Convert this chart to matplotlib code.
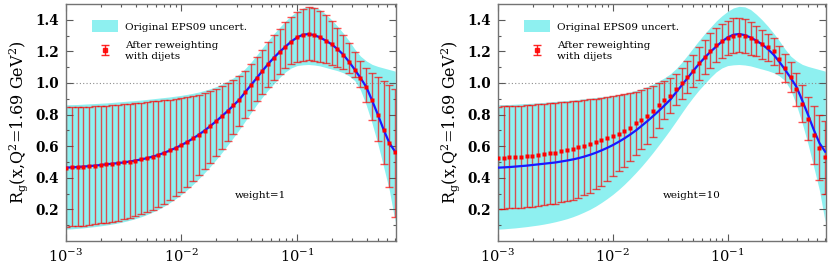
"""EPS09 gluon nuclear modification: original band vs dijet reweighting (weight 1 and 10)."""
import numpy as np
import matplotlib; matplotlib.use("Agg")
import matplotlib.pyplot as plt
from matplotlib.patches import Patch

plt.rcParams["font.family"] = "DejaVu Serif"
plt.rcParams["mathtext.fontset"] = "dejavuserif"

# log10(x) of the sample points
LOGX = [-3.00, -2.95, -2.90, -2.85, -2.80, -2.75, -2.70, -2.65, -2.60, -2.55,
        -2.50, -2.45, -2.40, -2.35, -2.30, -2.25, -2.20, -2.15, -2.10, -2.05,
        -2.00, -1.95, -1.90, -1.85, -1.80, -1.75, -1.70, -1.65, -1.60, -1.55,
        -1.50, -1.45, -1.40, -1.35, -1.30, -1.25, -1.20, -1.15, -1.10, -1.05,
        -1.00, -0.95, -0.90, -0.85, -0.80, -0.75, -0.70, -0.65, -0.60, -0.55,
        -0.50, -0.45, -0.40, -0.35, -0.30, -0.25, -0.20, -0.15]

# original EPS09 central value and uncertainty band
central = [0.464, 0.466, 0.468, 0.471, 0.474, 0.477, 0.481, 0.485, 0.489, 0.493,
           0.497, 0.503, 0.509, 0.516, 0.524, 0.534, 0.545, 0.558, 0.573, 0.589,
           0.607, 0.627, 0.649, 0.673, 0.699, 0.728, 0.758, 0.790, 0.823, 0.858,
           0.894, 0.940, 0.985, 1.030, 1.076, 1.120, 1.160, 1.197, 1.230, 1.262,
           1.288, 1.305, 1.310, 1.303, 1.288, 1.268, 1.245, 1.215, 1.180, 1.135,
           1.085, 1.032, 0.975, 0.890, 0.800, 0.705, 0.620, 0.565]
band_hi = [0.862, 0.863, 0.864, 0.866, 0.868, 0.870, 0.872, 0.874, 0.877, 0.880,
           0.883, 0.886, 0.889, 0.892, 0.896, 0.900, 0.904, 0.908, 0.912, 0.917,
           0.922, 0.928, 0.935, 0.943, 0.953, 0.964, 0.977, 0.993, 1.012, 1.033,
           1.057, 1.090, 1.130, 1.175, 1.222, 1.268, 1.312, 1.352, 1.392, 1.425,
           1.453, 1.475, 1.485, 1.482, 1.465, 1.435, 1.400, 1.360, 1.316, 1.268,
           1.215, 1.170, 1.140, 1.118, 1.105, 1.095, 1.085, 1.075]
band_lo = [0.075, 0.077, 0.080, 0.083, 0.087, 0.091, 0.096, 0.101, 0.107, 0.114,
           0.122, 0.131, 0.141, 0.153, 0.167, 0.183, 0.200, 0.220, 0.243, 0.268,
           0.295, 0.325, 0.358, 0.394, 0.432, 0.472, 0.515, 0.560, 0.607, 0.655,
           0.705, 0.757, 0.810, 0.862, 0.910, 0.955, 0.995, 1.035, 1.070, 1.095,
           1.110, 1.115, 1.117, 1.114, 1.108, 1.098, 1.088, 1.078, 1.065, 1.045,
           1.015, 0.955, 0.860, 0.745, 0.615, 0.470, 0.320, 0.120]

# reweighted, weight = 1 (central equals the original)
w1_hi = [0.845, 0.846, 0.847, 0.849, 0.851, 0.853, 0.855, 0.857, 0.860, 0.863,
         0.866, 0.869, 0.872, 0.875, 0.879, 0.883, 0.887, 0.891, 0.895, 0.900,
         0.905, 0.911, 0.918, 0.927, 0.937, 0.948, 0.962, 0.978, 0.997, 1.019,
         1.044, 1.077, 1.118, 1.163, 1.210, 1.257, 1.302, 1.344, 1.384, 1.418,
         1.447, 1.468, 1.478, 1.475, 1.458, 1.428, 1.392, 1.350, 1.303, 1.252,
         1.195, 1.140, 1.097, 1.062, 1.035, 1.010, 0.985, 0.962]
w1_lo = [0.090, 0.092, 0.095, 0.098, 0.102, 0.106, 0.111, 0.116, 0.122, 0.129,
         0.137, 0.146, 0.156, 0.168, 0.182, 0.198, 0.215, 0.236, 0.259, 0.285,
         0.313, 0.344, 0.378, 0.415, 0.454, 0.495, 0.538, 0.583, 0.630, 0.678,
         0.728, 0.780, 0.832, 0.883, 0.930, 0.975, 1.016, 1.056, 1.092, 1.118,
         1.135, 1.142, 1.144, 1.141, 1.134, 1.124, 1.113, 1.101, 1.087, 1.066,
         1.035, 0.975, 0.880, 0.765, 0.635, 0.490, 0.340, 0.150]

# reweighted, weight = 10
w10_c = [0.526, 0.527, 0.529, 0.531, 0.533, 0.536, 0.539, 0.543, 0.548, 0.554,
         0.560, 0.567, 0.575, 0.584, 0.594, 0.604, 0.615, 0.627, 0.640, 0.653,
         0.665, 0.680, 0.696, 0.718, 0.746, 0.766, 0.788, 0.820, 0.858, 0.890,
         0.920, 0.960, 0.998, 1.038, 1.078, 1.125, 1.165, 1.205, 1.240, 1.265,
         1.283, 1.300, 1.305, 1.298, 1.283, 1.265, 1.245, 1.225, 1.200, 1.150,
         1.095, 1.035, 0.960, 0.870, 0.775, 0.672, 0.590, 0.530]
w10_hi = [0.851, 0.852, 0.853, 0.855, 0.857, 0.859, 0.862, 0.865, 0.868, 0.871,
          0.874, 0.878, 0.881, 0.885, 0.889, 0.893, 0.897, 0.901, 0.905, 0.910,
          0.915, 0.921, 0.928, 0.936, 0.945, 0.955, 0.967, 0.982, 1.000, 1.010,
          1.030, 1.060, 1.095, 1.140, 1.180, 1.230, 1.275, 1.315, 1.345, 1.375,
          1.395, 1.410, 1.412, 1.405, 1.385, 1.360, 1.335, 1.310, 1.285, 1.235,
          1.185, 1.130, 1.065, 0.985, 0.910, 0.855, 0.800, 0.760]
w10_lo = [0.202, 0.204, 0.206, 0.208, 0.211, 0.214, 0.217, 0.221, 0.226, 0.231,
          0.237, 0.244, 0.252, 0.262, 0.274, 0.289, 0.306, 0.326, 0.350, 0.378,
          0.410, 0.440, 0.470, 0.505, 0.545, 0.580, 0.613, 0.658, 0.715, 0.770,
          0.810, 0.860, 0.900, 0.935, 0.975, 1.020, 1.060, 1.095, 1.135, 1.160,
          1.175, 1.190, 1.195, 1.190, 1.180, 1.170, 1.155, 1.140, 1.115, 1.065,
          1.005, 0.940, 0.855, 0.755, 0.640, 0.490, 0.385, 0.300]

PANELS = [("weight=1", central, w1_lo, w1_hi), ("weight=10", w10_c, w10_lo, w10_hi)]
BAND = "#8ef0f0"
x = 10 ** np.array(LOGX)

fig = plt.figure(figsize=(8.3, 2.66), dpi=100)
axes = [fig.add_axes([0.0795, 0.094, 0.3976, 0.891]),
        fig.add_axes([0.600, 0.094, 0.3952, 0.891])]

for ax, (tag, mid, lo, hi) in zip(axes, PANELS):
    mid, lo, hi = np.array(mid), np.array(lo), np.array(hi)
    ax.fill_between(x, band_lo, band_hi, color=BAND, lw=0, zorder=1)
    ax.axhline(1.0, color="0.55", lw=0.8, ls=(0, (1, 2)), zorder=1.5)
    ax.errorbar(x, mid, yerr=[mid - lo, hi - mid], fmt="none", ecolor="red",
                elinewidth=1.0, capsize=2.6, capthick=1.0, alpha=0.68, zorder=2)
    ax.plot(x, central, color="#1a1aff", lw=1.6, zorder=3)
    ax.plot(x, mid, ls="none", marker="s", ms=2.4, color="red", mec="none", zorder=4)

    ax.set_xscale("log")
    ax.set_xlim(1e-3, 0.72)
    ax.set_ylim(0, 1.5)
    ax.set_yticks([0.2, 0.4, 0.6, 0.8, 1.0, 1.2, 1.4])
    ax.set_yticks(np.arange(0.1, 1.5, 0.1), minor=True)
    ax.set_xticks([1e-3, 1e-2, 1e-1])
    ax.set_xticklabels([r"$10^{-3}$", r"$10^{-2}$", r"$10^{-1}$"], fontsize=10.5)
    for lab in ax.get_yticklabels():
        lab.set_fontweight("bold"); lab.set_fontsize(9.8)
    ax.tick_params(which="both", direction="in", top=True, right=True, width=0.8, color="0.35")
    ax.tick_params(which="major", length=5, pad=5)
    ax.tick_params(which="minor", length=2.5)
    for s in ax.spines.values():
        s.set_color("0.45"); s.set_linewidth(1.0)
    ax.set_ylabel(r"R$_\mathrm{g}$(x,Q$^2$=1.69 GeV$^2$)", fontsize=11.5, labelpad=4)
    ax.text(0.59, 0.19, tag, transform=ax.transAxes, fontsize=7.5, ha="center", va="center")

    leg_eb = ax.errorbar([np.nan], [np.nan], yerr=[np.nan], fmt="s", color="red", ms=2.6,
                         capsize=2.6, elinewidth=1.0, capthick=1.0, alpha=0.85)
    ax.legend([Patch(facecolor=BAND, edgecolor="none"), leg_eb],
              ["Original EPS09 uncert.", "After reweighting\nwith dijets"],
              loc="upper left", bbox_to_anchor=(0.05, 0.97), frameon=False, fontsize=7.5,
              handlelength=2.5, handleheight=1.3, labelspacing=0.9, handletextpad=0.7)

fig.savefig("out.png", dpi=100)
